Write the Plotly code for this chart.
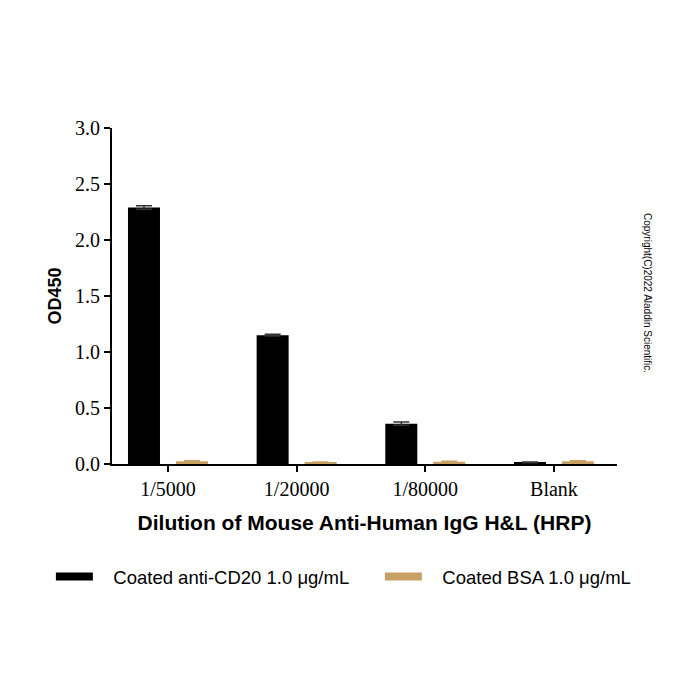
import plotly.graph_objects as go

categories = ["1/5000", "1/20000", "1/80000", "Blank"]
cd20_values = [2.29, 1.15, 0.36, 0.015]
cd20_errors = [0.015, 0.008, 0.015, 0.003]
bsa_values = [0.025, 0.015, 0.02, 0.025]
bsa_errors = [0.004, 0.003, 0.005, 0.004]
series_names = ["Coated anti-CD20 1.0 μg/mL", "Coated BSA 1.0 μg/mL"]
y_ticks = [0.0, 0.5, 1.0, 1.5, 2.0, 2.5, 3.0]

BLACK = "#000000"
TAN = "#C9A063"
PAD = "\u00a0" * 3
TRAIL = "\u00a0" * 5

fig = go.Figure()
fig.add_trace(go.Bar(
    x=categories, y=cd20_values, name=series_names[0], marker_color=BLACK,
    marker_line_width=0, showlegend=False,
    error_y=dict(type="data", array=cd20_errors, color="#333333", thickness=1.5, width=8),
))
fig.add_trace(go.Bar(
    x=categories, y=bsa_values, name=series_names[1], marker_color=TAN,
    marker_line_width=0, showlegend=False,
    error_y=dict(type="data", array=bsa_errors, color=TAN, thickness=1.5, width=8),
))
# legend proxies (wide bars)
fig.add_trace(go.Scatter(x=[None], y=[None], mode="lines", name=PAD + series_names[0] + TRAIL,
                         line=dict(color=BLACK, width=8)))
fig.add_trace(go.Scatter(x=[None], y=[None], mode="lines", name=PAD + series_names[1],
                         line=dict(color=TAN, width=8)))

fig.update_layout(
    width=700, height=700,
    margin=dict(l=112, r=83, t=128, b=236),
    plot_bgcolor="white", paper_bgcolor="white",
    barmode="group", bargap=0.254, bargroupgap=0.333,
    showlegend=True,
    legend=dict(orientation="h", x=-0.121, y=-0.336, xanchor="left", yanchor="middle",
                font=dict(family="Liberation Sans, Arial", size=18.5, color="black"),
                itemwidth=37),
    xaxis=dict(
        type="category", range=[-0.435, 3.49],
        showline=True, linecolor="black", linewidth=2,
        ticks="outside", ticklen=6, tickwidth=2, tickcolor="black",
        tickfont=dict(family="Liberation Serif, Times New Roman", size=20, color="black"),
        title=dict(text="<b>Dilution of Mouse Anti-Human IgG H&L (HRP)</b>",
                   font=dict(family="Liberation Sans, Arial", size=21, color="black"),
                   standoff=16),
        showgrid=False, zeroline=False,
    ),
    yaxis=dict(
        range=[0, 3.0], tickvals=y_ticks, tickformat=".1f",
        showline=True, linecolor="black", linewidth=2,
        ticks="outside", ticklen=6, tickwidth=2, tickcolor="black",
        tickfont=dict(family="Liberation Serif, Times New Roman", size=20, color="black"),
        title=dict(text="<b>OD450</b>",
                   font=dict(family="Liberation Sans, Arial", size=18, color="black"),
                   standoff=9),
        showgrid=False, zeroline=False,
    ),
    annotations=[dict(
        text="Copyright(C)2022 Aladdin Scientific.", textangle=90,
        xref="paper", yref="paper", x=(648 - 112) / 505, y=(464 - 293) / 336,
        xanchor="center", yanchor="middle", showarrow=False,
        font=dict(family="Liberation Sans, Arial", size=10, color="black"),
    )],
)

fig.write_html("out.html")
